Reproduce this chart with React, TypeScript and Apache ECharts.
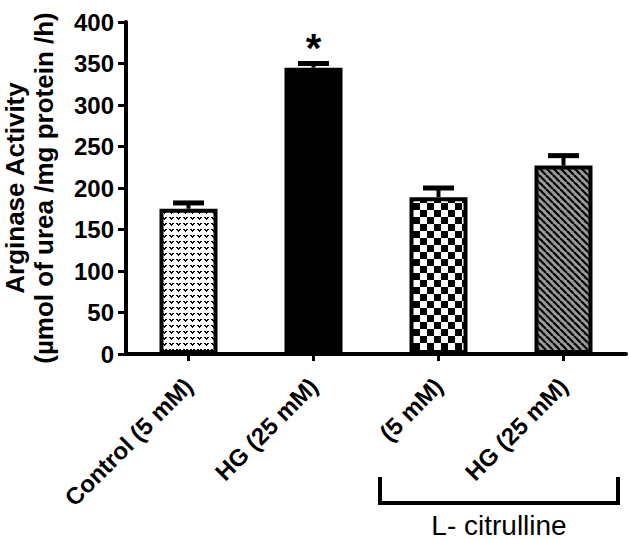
import React, { useEffect, useRef } from 'react';
import * as echarts from 'echarts';

const categories = ['Control (5 mM)', 'HG (25 mM)', '(5 mM)', 'HG (25 mM)'];
const means = [175, 345, 189, 227];
const errors = [7, 5, 11, 12];
const significance = ['', '*', '', ''];
const yMin = 0;
const yMax = 400;
const yInterval = 50;
const yTitle = 'Arginase Activity\n(µmol of urea /mg protein /h)';
const groupLabel = 'L- citrulline';

const FONT = '"Liberation Sans", Arial, Helvetica, sans-serif';

function makeTile(w: number, h: number, draw: (ctx: CanvasRenderingContext2D) => void) {
  const c = document.createElement('canvas');
  c.width = w;
  c.height = h;
  const ctx = c.getContext('2d') as CanvasRenderingContext2D;
  draw(ctx);
  return { image: c.toDataURL(), repeat: 'repeat', imageWidth: w, imageHeight: h } as any;
}

function buildPatterns() {
  const dots = makeTile(7, 6, (ctx) => {
    ctx.fillStyle = '#fff';
    ctx.fillRect(0, 0, 7, 6);
    ctx.fillStyle = '#000';
    ctx.fillRect(1, 1, 2, 1);
    ctx.fillRect(4, 1, 2, 1);
    ctx.fillRect(2, 2, 3, 1);
    ctx.fillRect(3, 3, 1, 1);
  });
  const checker = makeTile(14, 14, (ctx) => {
    ctx.fillStyle = '#fff';
    ctx.fillRect(0, 0, 14, 14);
    ctx.fillStyle = '#000';
    ctx.fillRect(0, 0, 7, 7);
    ctx.fillRect(7, 7, 7, 7);
  });
  const diag = makeTile(7, 7, (ctx) => {
    ctx.fillStyle = '#9a9a9a';
    ctx.fillRect(0, 0, 7, 7);
    ctx.strokeStyle = '#000';
    ctx.lineWidth = 2.2;
    for (const o of [-7, 0, 7]) {
      ctx.beginPath();
      ctx.moveTo(o, 0);
      ctx.lineTo(o + 7, 7);
      ctx.stroke();
    }
  });
  return [dots, '#000', checker, diag];
}

export default function App() {
  const ref = useRef<HTMLDivElement>(null);

  useEffect(() => {
    if (!ref.current) return;
    const chart = echarts.init(ref.current, null, { renderer: 'svg' });
    const fills = buildPatterns();

    chart.setOption({
      animation: false,
      backgroundColor: '#fff',
      grid: {
        left: 126,
        right: 3,
        top: 22,
        bottom: 185,
        containLabel: false,
        outerBoundsMode: 'none',
      },
      xAxis: {
        type: 'category',
        data: categories,
        boundaryGap: true,
        axisLine: { show: true, lineStyle: { color: '#000', width: 4 } },
        axisTick: { show: true, alignWithLabel: true, length: 7, lineStyle: { color: '#000', width: 3 } },
        axisLabel: {
          interval: 0,
          rotate: 45,
          margin: 28,
          color: '#000',
          fontSize: 24,
          fontWeight: 'bold',
          fontFamily: FONT,
        },
        splitLine: { show: false },
      },
      yAxis: {
        type: 'value',
        min: yMin,
        max: yMax,
        interval: yInterval,
        name: yTitle,
        nameLocation: 'middle',
        nameRotate: 90,
        nameGap: 68,
        nameTextStyle: {
          color: '#000',
          fontSize: 26,
          fontWeight: 'bold',
          fontFamily: FONT,
          lineHeight: 29,
          align: 'center',
        },
        axisLine: { show: true, lineStyle: { color: '#000', width: 4 } },
        axisTick: { show: true, length: 8, lineStyle: { color: '#000', width: 3 } },
        axisLabel: {
          margin: 12,
          color: '#000',
          fontSize: 24,
          fontWeight: 'bold',
          fontFamily: FONT,
        },
        splitLine: { show: false },
      },
      series: [
        {
          type: 'bar',
          barWidth: 58,
          data: means.map((v, i) => ({
            value: v,
            itemStyle: { color: fills[i], borderColor: '#000', borderWidth: 4 },
          })),
          z: 2,
        },
        {
          type: 'custom',
          z: 3,
          data: means.map((m, i) => [i, m, errors[i]]),
          encode: { x: 0, y: 1 },
          renderItem: (params: any, api: any) => {
            const i = api.value(0);
            const m = api.value(1);
            const e = api.value(2);
            const base = api.coord([i, m]);
            const top = api.coord([i, m + e]);
            const children: any[] = [
              {
                type: 'line',
                shape: { x1: top[0], y1: base[1], x2: top[0], y2: top[1] },
                style: { stroke: '#000', lineWidth: 4 },
              },
              {
                type: 'line',
                shape: { x1: top[0] - 15.5, y1: top[1], x2: top[0] + 15.5, y2: top[1] },
                style: { stroke: '#000', lineWidth: 5 },
              },
            ];
            const sig = significance[params.dataIndex];
            if (sig) {
              children.push({
                type: 'text',
                x: top[0],
                y: top[1] - 16,
                style: {
                  text: sig,
                  fontSize: 40,
                  fontWeight: 'bold',
                  fontFamily: FONT,
                  fill: '#000',
                  align: 'center',
                  verticalAlign: 'middle',
                },
              });
            }
            return { type: 'group', children };
          },
        },
      ],
      graphic: [
        {
          type: 'polyline',
          shape: { points: [[380, 477], [380, 503], [618, 503], [618, 477]] },
          style: { stroke: '#000', lineWidth: 4, fill: 'none' },
        },
        {
          type: 'text',
          x: 499,
          y: 525,
          style: {
            text: groupLabel,
            fontSize: 28,
            fontFamily: FONT,
            fill: '#000',
            align: 'center',
            verticalAlign: 'middle',
          },
        },
      ],
    });

    return () => {
      chart.dispose();
    };
  }, []);

  return (
    <div
      ref={ref}
      style={{ position: 'fixed', left: 0, top: 0, width: 629, height: 539, background: '#fff' }}
    />
  );
}
